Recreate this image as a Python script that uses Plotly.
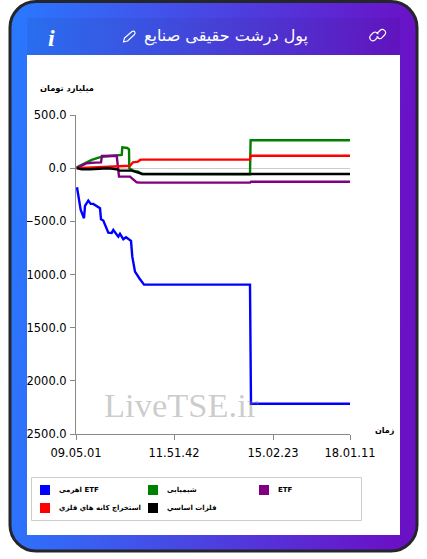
import base64
import plotly.graph_objects as go

W, H = 427, 559

# ---------- data ----------
series_names = ["اهرمی ETF", "شیمیایی", "ETF", "استخراج کانه هاي فلزي", "فلزات اساسي"]
series_colors = ["#0000ff", "#008000", "#800080", "#ff0000", "#000000"]

blue_t = [1, 4.7, 8, 9, 12.3, 14.7, 17.3, 24, 25, 27.3, 32.3, 35.7, 37.3, 40.7, 42.3, 44, 47.3, 50, 55, 56.3, 59, 63.3, 68, 174, 175, 274]
blue_v = [-180, -393, -471, -355, -305, -336, -336, -377, -480, -493, -606, -609, -581, -628, -644, -618, -668, -649, -684, -832, -973, -1035, -1095, -1095, -2216, -2216]

green_t = [0.7, 15.7, 25.7, 40.7, 45.7, 46.3, 51.3, 53, 53.3, 57.3, 62.3, 65.7, 174, 174.6, 274]
green_v = [8, 77, 108, 117, 124, 196, 190, 178, -1, -23, -33, -55, -58, 262, 262]

purple_t = [0.7, 10.7, 19, 25, 26, 40.7, 43, 54, 60.7, 64, 174, 175, 274]
purple_v = [0, 46, 52, 54, 115, 117, -80, -80, -133, -136, -136, -128, -128]

red_t = [0.7, 27.3, 40.7, 54, 57, 62, 64, 65.7, 174, 174.6, 274]
red_v = [0, 14, 21, 23, 55, 61, 77, 80, 80, 117, 117]

black_t = [0.7, 5.7, 14, 27, 32, 40.7, 43.3, 55.7, 62.3, 66.7, 274]
black_v = [0, -10, -10, -8, -1, -10, -23, -23, -42, -55, -55]

x_ticks = [0, 98, 197, 274]
x_labels = ["09.05.01", "11.51.42", "15.02.23", "18.01.11"]
y_ticks = [500, 0, -500, -1000, -1500, -2000, -2500]

title_text = "پول درشت حقیقی صنایع"
y_title = "میلیارد تومان"
x_title = "زمان"
watermark = "LiveTSE.ir"


def px(x):
    return x / W


def py(y):
    return 1 - y / H


# ---------- card frame (gradient with a hole for the white panel) ----------
outer = "M36 1.5 H391 A26 26 0 0 1 417 27.5 V525 A26 26 0 0 1 391 551 H36 A26 26 0 0 1 10 525 V27.5 A26 26 0 0 1 36 1.5 Z"
svg = f'''<svg xmlns="http://www.w3.org/2000/svg" width="{W}" height="{H}" viewBox="0 0 {W} {H}">
<defs><linearGradient id="g" x1="0" y1="0" x2="1" y2="0.06">
<stop offset="0" stop-color="#2979ff"/><stop offset="1" stop-color="#6a11c6"/></linearGradient></defs>
<path fill-rule="evenodd" fill="url(#g)" d="{outer} M27 55 V535 H400 V55 Z"/>
<path fill="none" stroke="#24262c" stroke-width="3" d="{outer}"/>
<path fill="#000" fill-opacity="0.05" d="M27 18 H400 V55 H27 Z"/>
<g fill="none" stroke="#fff" stroke-width="1.1" stroke-linecap="round" stroke-linejoin="round">
<path d="M123.5 42 L124.5 38 L132 31.5 Q134 30.5 134.8 32 Q135.5 33.5 134.5 34.5 L127.5 41 Z"/>
<path d="M377 33.5 L380 30.5 A3.2 3.2 0 0 1 384.6 35 L381.5 38.2 A3.2 3.2 0 0 1 377 36.5"/>
<path d="M378 37 L375 40 A3.2 3.2 0 0 1 370.5 35.5 L373.5 32.5 A3.2 3.2 0 0 1 378 34"/>
</g></svg>'''
src = "data:image/svg+xml;base64," + base64.b64encode(svg.encode()).decode()

fig = go.Figure()
for name, color, t, v in zip(
    series_names, series_colors,
    [blue_t, green_t, purple_t, red_t, black_t],
    [blue_v, green_v, purple_v, red_v, black_v],
):
    fig.add_trace(go.Scatter(x=t, y=v, name=name, mode="lines",
                             line=dict(color=color, width=2.4), showlegend=False,
                             cliponaxis=False))

shapes = []
annotations = []


def text(x, y, s, size, color="#000", family="DejaVu Sans", anchor="center", **kw):
    annotations.append(dict(xref="paper", yref="paper", x=px(x), y=py(y), text=s, showarrow=False,
                            xanchor=anchor, yanchor="middle",
                            font=dict(size=size, color=color, family=family), **kw))


# legend box
shapes.append(dict(type="rect", xref="paper", yref="paper", x0=px(31.5), x1=px(361.5), y0=py(477.5), y1=py(520.5),
                   line=dict(color="#cccccc", width=1), fillcolor="#ffffff", layer="below"))
legend_pos = [(40, 485, 57), (148, 485, 165), (259, 485, 276), (40, 503, 57), (148, 503, 165)]
for name, color, (sx, sy, tx) in zip(series_names, series_colors, legend_pos):
    shapes.append(dict(type="rect", xref="paper", yref="paper", x0=px(sx), x1=px(sx + 10),
                       y0=py(sy), y1=py(sy + 10), fillcolor=color, line=dict(width=0)))
    text(tx, sy + 5, "<b>" + name + "</b>", 7, anchor="left")

text(226, 36, title_text, 16, color="#ffffff")
text(51, 38, "<b><i>i</i></b>", 24, color="#ffffff", family="Liberation Serif")
text(66.5, 88, "<b>" + y_title + "</b>", 8.3, color="#000")
text(385, 430, "<b>" + x_title + "</b>", 8, color="#000")
text(181, 405, watermark, 34.5, color="rgba(120,120,120,0.38)", family="Liberation Serif")

fig.update_layout(
    width=W, height=H, autosize=False,
    margin=dict(l=0, r=0, t=0, b=0),
    paper_bgcolor="#ffffff", plot_bgcolor="#ffffff",
    showlegend=False,
    images=[dict(source=src, xref="paper", yref="paper", x=0, y=1, sizex=1, sizey=1,
                 xanchor="left", yanchor="top", sizing="stretch", layer="above")],
    shapes=shapes, annotations=annotations,
    xaxis=dict(domain=[px(76), px(350)], range=[0, 274], tickmode="array", automargin=False,
               tickvals=x_ticks, ticktext=x_labels, ticks="outside", ticklen=5, tickcolor="#888888",
               tickwidth=1, showline=True, linecolor="#888888", linewidth=1, showgrid=False, zeroline=False,
               ticklabelstandoff=3, tickfont=dict(family="DejaVu Sans", size=11.5, color="#000")),
    yaxis=dict(domain=[py(434), py(115)], range=[-2500, 500], tickmode="array", automargin=False,
               tickvals=y_ticks, tickformat=".1f", ticks="outside", ticklen=5, tickcolor="#888888",
               tickwidth=1, showline=True, linecolor="#888888", linewidth=1, showgrid=False,
               zeroline=True, zerolinecolor="#cccccc", zerolinewidth=1,
               ticklabelstandoff=1, tickfont=dict(family="DejaVu Sans", size=11.5, color="#000")),
)

fig.write_html("out.html", config=dict(displayModeBar=False),
               post_script="document.body.style.margin='0';document.body.style.overflow='hidden';")
